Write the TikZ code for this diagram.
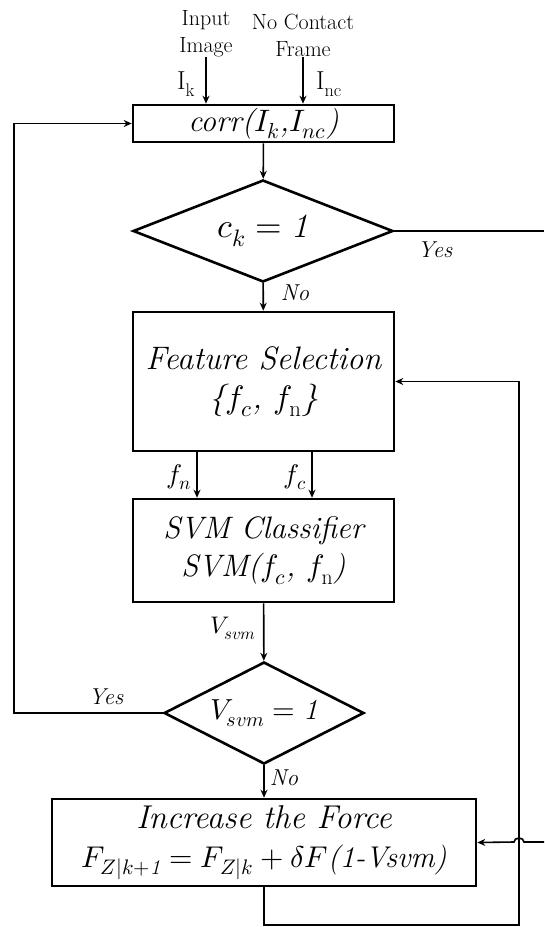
\documentclass[tikz,border=0pt]{standalone}
\usepackage{amsmath}
\usepackage{fontspec}
\usepackage{unicode-math}
\setmathfont{Latin Modern Math}
\usetikzlibrary{positioning,shapes.geometric,arrows.meta}

\tikzset{
  blk/.style={draw, line width=2.6pt, rectangle, inner sep=0pt, align=center,
    font=\fontsize{31}{38}\selectfont\itshape},
  dec/.style={draw, line width=2.6pt, diamond, aspect=2.5, inner sep=0pt,
    font=\fontsize{34}{40}\selectfont\itshape},
  con/.style={line width=1.6pt, -{Stealth[length=8pt,width=7pt]}},
  lne/.style={line width=1.6pt},
  lbl/.style={inner sep=0pt, font=\fontsize{23}{26}\selectfont\itshape},
  inp/.style={inner sep=0pt, align=center, font=\fontsize{22}{27}\selectfont},
  idx/.style={inner sep=0pt, font=\fontsize{26}{28}\selectfont},
}

\begin{document}
\begin{tikzpicture}[x=1pt,y=-1pt]
\useasboundingbox (0,0) rectangle (544,927);

% inputs
\node[inp, anchor=south] (img) at (206,57) {Input\\Image};
\node[inp, anchor=south] (ncf) at (303,57) {No Contact\\Frame};
\node[idx] (ik) at (186,84) {$\mathrm{I_k}$};
\node[idx] (inc) at (329,84) {$\mathrm{I_{nc}}$};

% blocks
\node[blk, minimum width=261pt, minimum height=37pt] (corr) at (263.5,123.5)
  {corr($I_k$,$I_{nc}$)};
\node[dec, minimum width=260pt, minimum height=102pt] (ck) at (263,231)
  {$c_k = \mathit{1}$};
\node[blk, font=\fontsize{32.5}{39}\selectfont\itshape, minimum width=261pt, minimum height=139pt] (feat) at (263.5,381.5)
  {Feature Selection\\\{$f_c$, $f_{\mathrm{n}}$\}};
\node[blk, minimum width=261pt, minimum height=103pt] (svm) at (263.5,550.5)
  {SVM Classifier\\SVM($f_c$, $f_{\mathrm{n}}$)};
\node[dec, font=\fontsize{29}{36}\selectfont\itshape, minimum width=200pt, minimum height=102pt] (vs) at (264,713)
  {$V_{svm} = \mathit{1}$};
\node[blk, font=\fontsize{33}{39}\selectfont\itshape, minimum width=424pt, minimum height=87pt] (force) at (264,842.5)
  {Increase the Force\\{\fontsize{30}{36}\selectfont $F_{Z|k+\mathit{1}} = F_{Z|k} + \delta F$(1-Vsvm)}};

% free ends
\coordinate (lft) at (14,713);
\coordinate (yesout) at (544,231);
\coordinate (yesin) at (544,842);
\coordinate (hop) at (519,842);
\coordinate (loopR) at (519,925);

% connectors
\draw[con] (img.south) -- (img.south |- corr.north);
\draw[con] (ncf.south) -- (ncf.south |- corr.north);
\draw[con] (corr) -- (ck);
\draw[lne] (ck.east) -- (yesout);
\draw[con] (ck) -- (feat);
\draw[con] ([xshift=-66.5pt]feat.south) -- ([xshift=-66.5pt]svm.north);
\draw[con] ([xshift=48.5pt]feat.south) -- ([xshift=48.5pt]svm.north);
\draw[con] (svm) -- (vs);
\draw[con] (vs.west) -- (lft) |- (corr.west);
\draw[con] (vs) -- (force);
\draw[con] (force.south) |- (loopR) |- (feat.east);
\draw[con] (yesin) -- ([xshift=5pt]hop) arc[start angle=0, end angle=180, x radius=5pt, y radius=4pt] -- (force.east);

% labels
\node[lbl] (yes1) at (435,250) {Yes};
\node[lbl] (no1) at (295,293) {No};
\node[lbl, font=\fontsize{27}{28}\selectfont] (fn) at (179,477) {$f_n$};
\node[lbl, font=\fontsize{27}{28}\selectfont] (fc) at (295,477) {$f_c$};
\node[lbl, font=\fontsize{24}{26}\selectfont] (vsv) at (233,628) {$V_{svm}$};
\node[lbl] (yes2) at (106,697) {Yes};
\node[lbl] (no2) at (284,778) {No};
\end{tikzpicture}
\end{document}
